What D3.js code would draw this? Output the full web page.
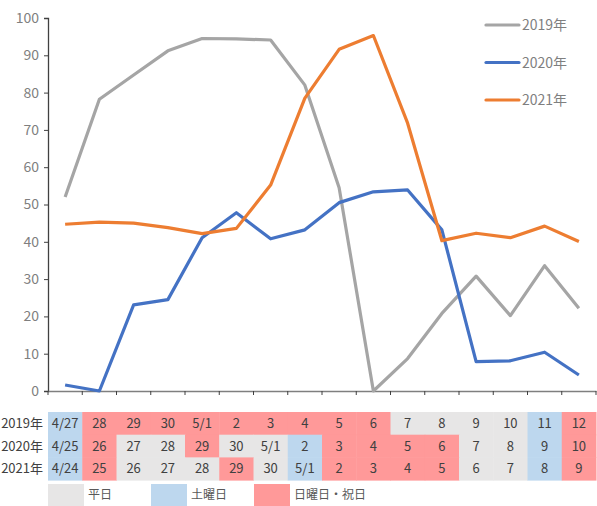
<!DOCTYPE html>
<html>
<head>
<meta charset="utf-8">
<script src="https://cdn.jsdelivr.net/npm/d3@7"></script>
<style>
  body { margin: 0; background: #fff; }
  text { font-family: "Noto Sans CJK JP", "Noto Sans", sans-serif; }
</style>
</head>
<body>
<script>
const seriesNames = ['2019年', '2020年', '2021年'];
const colors = ['#A5A5A5', '#4472C4', '#ED7D31'];

const v2019 = [52, 78.2, 84.7, 91.2, 94.5, 94.4, 94.1, 82, 54.5, 0, 8.7, 20.8, 30.8, 20.2, 33.6, 22.2];
const v2020 = [1.6, 0, 23.1, 24.5, 41.1, 47.8, 40.8, 43.2, 50.5, 53.4, 53.9, 43.2, 7.9, 8.1, 10.4, 4.3];
const v2021 = [44.7, 45.3, 45.0, 43.8, 42.2, 43.6, 55.2, 78.5, 91.6, 95.3, 71.8, 40.3, 42.3, 41.1, 44.2, 40.1];

const yTicks = [0, 10, 20, 30, 40, 50, 60, 70, 80, 90, 100];

// table: date labels and day type (w = weekday, s = saturday, h = sunday/holiday)
const dates2019 = ['4/27', '28', '29', '30', '5/1', '2', '3', '4', '5', '6', '7', '8', '9', '10', '11', '12'];
const dates2020 = ['4/25', '26', '27', '28', '29', '30', '5/1', '2', '3', '4', '5', '6', '7', '8', '9', '10'];
const dates2021 = ['4/24', '25', '26', '27', '28', '29', '30', '5/1', '2', '3', '4', '5', '6', '7', '8', '9'];
const types2019 = ['s', 'h', 'h', 'h', 'h', 'h', 'h', 'h', 'h', 'h', 'w', 'w', 'w', 'w', 's', 'h'];
const types2020 = ['s', 'h', 'w', 'w', 'h', 'w', 'w', 's', 'h', 'h', 'h', 'h', 'w', 'w', 's', 'h'];
const types2021 = ['s', 'h', 'w', 'w', 'w', 'h', 'w', 's', 'h', 'h', 'h', 'h', 'w', 'w', 's', 'h'];

const dayTypes = ['w', 's', 'h'];
const dayLabels = ['平日', '土曜日', '日曜日・祝日'];
const dayColors = { w: '#E7E6E6', s: '#BDD7EE', h: '#FF9999' };

const W = 597, H = 506;
const svg = d3.select('body').append('svg').attr('width', W).attr('height', H);

const idx = d3.range(16);
const x = d3.scaleBand().domain(idx).range([48, 596]);
const y = d3.scaleLinear().domain([0, 100]).range([391, 18]);

// axes
const yAxis = svg.append('g')
  .attr('transform', 'translate(48,0)')
  .call(d3.axisLeft(y).tickValues(yTicks).tickSize(4).tickPadding(5));
yAxis.select('.domain').attr('stroke', '#404040').attr('stroke-width', 1.3);
yAxis.selectAll('.tick line').attr('stroke', '#404040');
yAxis.selectAll('.tick text').attr('fill', '#7F7F7F').attr('font-size', 14);

const xAxis = svg.append('g')
  .attr('transform', 'translate(0,391)')
  .call(d3.axisBottom(x).tickValues([]).tickSizeOuter(0));
xAxis.select('.domain').attr('stroke', '#7F7F7F').attr('stroke-width', 1.3);
xAxis.selectAll('.bnd').data(d3.range(17)).enter().append('line')
  .attr('x1', d => 48 + d * x.bandwidth()).attr('x2', d => 48 + d * x.bandwidth())
  .attr('y1', 0).attr('y2', 4).attr('stroke', '#404040');

// lines
const line = d3.line().x((d, i) => x(i) + x.bandwidth() / 2).y(d => y(d));
[v2019, v2020, v2021].forEach((vals, k) => {
  svg.append('path').datum(vals)
    .attr('d', line)
    .attr('fill', 'none')
    .attr('stroke', colors[k])
    .attr('stroke-width', 3.2)
    .attr('stroke-linejoin', 'round');
});

// legend
seriesNames.forEach((name, k) => {
  const ly = 25 + k * 37.5;
  svg.append('line').attr('x1', 486).attr('x2', 519).attr('y1', ly).attr('y2', ly)
    .attr('stroke', colors[k]).attr('stroke-width', 3.2).attr('stroke-linecap', 'round');
  svg.append('text').attr('x', 522).attr('y', ly).attr('dy', '0.36em')
    .attr('fill', '#7F7F7F').attr('font-size', 14).text(name);
});

// table
const rowH = 22.7, tableTop = 412;
const rows = [
  { label: '2019年', dates: dates2019, types: types2019 },
  { label: '2020年', dates: dates2020, types: types2020 },
  { label: '2021年', dates: dates2021, types: types2021 }
];
rows.forEach((r, k) => {
  const ry = tableTop + k * rowH;
  const g = svg.append('g');
  g.selectAll('rect').data(idx).enter().append('rect')
    .attr('x', i => x(i)).attr('y', ry)
    .attr('width', x.bandwidth() + 0.5).attr('height', rowH + 0.5)
    .attr('fill', i => dayColors[r.types[i]]);
  g.selectAll('text.cell').data(idx).enter().append('text')
    .attr('class', 'cell')
    .attr('x', i => x(i) + x.bandwidth() / 2).attr('y', ry + rowH / 2)
    .attr('dy', '0.36em').attr('text-anchor', 'middle')
    .attr('font-size', 13).attr('fill', '#404040')
    .text(i => r.dates[i]);
  g.append('text').attr('x', 43).attr('y', ry + rowH / 2).attr('dy', '0.36em')
    .attr('text-anchor', 'end').attr('font-size', 13).attr('fill', '#404040')
    .text(r.label);
});

// day-type legend
const legX = [48, 151, 254];
dayTypes.forEach((t, k) => {
  svg.append('rect').attr('x', legX[k]).attr('y', 484).attr('width', 36).attr('height', 22)
    .attr('fill', dayColors[t]);
  svg.append('text').attr('x', legX[k] + 40).attr('y', 495).attr('dy', '0.36em')
    .attr('font-size', 12).attr('fill', '#595959').text(dayLabels[k]);
});
</script>
</body>
</html>
